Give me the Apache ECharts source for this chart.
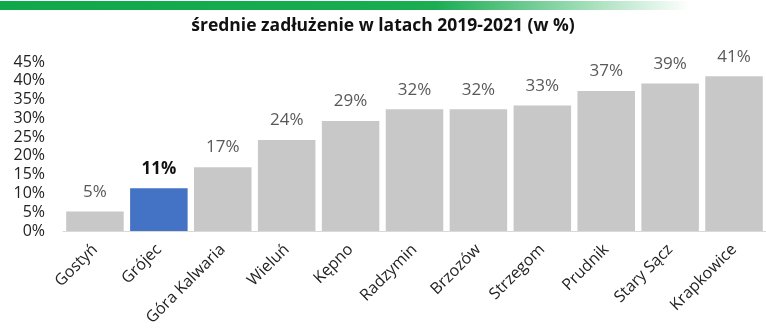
<!DOCTYPE html>
<html><head><meta charset="utf-8">
<script src="https://cdn.jsdelivr.net/npm/echarts@6/dist/echarts.min.js"></script>
<style>html,body{margin:0;padding:0;background:#fff}#c{width:766px;height:334px}</style>
</head><body><div id="c"></div>
<script>
const titleText = 'średnie zadłużenie w latach 2019-2021 (w %)';
const categories = ['Gostyń','Grójec','Góra Kalwaria','Wieluń','Kępno','Radzymin','Brzozów','Strzegom','Prudnik','Stary Sącz','Krapkowice'];
const values = [5.2, 11.4, 17.0, 24.2, 29.3, 32.4, 32.4, 33.4, 37.3, 39.3, 41.2];
const highlightIndex = 1;
const yTicks = {min: 0, max: 45, interval: 5};

const chart = echarts.init(document.getElementById('c'));
const font = '"Open Sans", "Noto Sans", sans-serif';
chart.setOption({
  animation: false,
  graphic: [{
    type: 'rect', left: 0, top: 1, shape: {width: 690, height: 9},
    style: {fill: new echarts.graphic.LinearGradient(0,0,1,0,[
      {offset:0, color:'#0fa84a'},{offset:0.63, color:'#1aad52'},{offset:1, color:'rgba(255,255,255,1)'}])}
  }],
  title: {text: titleText, left: 'center', top: 12,
    textStyle: {fontFamily: font, fontWeight: 'bold', fontSize: 17.5, color: '#111'}},
  grid: {left: 63, right: -6, top: 62, bottom: 103},
  xAxis: {type: 'category', data: categories,
    axisLine: {lineStyle: {color: '#d9d9d9', width: 1}}, axisTick: {show: false},
    axisLabel: {rotate: 45, interval: 0, margin: 16, fontFamily: font, fontSize: 16, color: '#222'}},
  yAxis: {type: 'value', min: yTicks.min, max: yTicks.max, interval: yTicks.interval,
    splitLine: {show: false}, axisLine: {show: false}, axisTick: {show: false},
    axisLabel: {formatter: '{value}%', margin: 18, fontFamily: font, fontSize: 16, color: '#222'}},
  series: [{type: 'bar', barCategoryGap: '10%',
    data: values.map((v, i) => ({value: v,
      itemStyle: {color: i === highlightIndex ? '#4472c4' : '#c8c8c8'},
      label: i === highlightIndex ? {color: '#111', fontWeight: 'bold'} : undefined})),
    label: {show: true, position: 'top', distance: 11, fontFamily: font, fontSize: 17, color: '#595959',
      formatter: p => Math.round(p.value) + '%'}
  }]
});
</script></body></html>
